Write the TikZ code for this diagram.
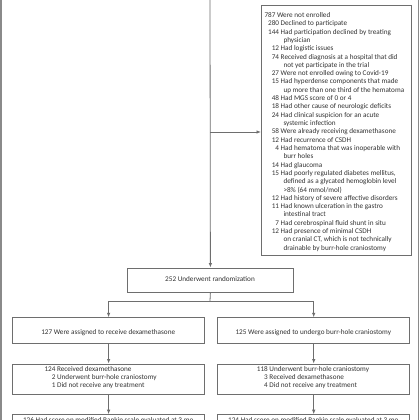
\documentclass[tikz,border=0pt]{standalone}
\usepackage{fontspec}
\setmainfont{Carlito}
\usetikzlibrary{arrows.meta}
\definecolor{linegray}{HTML}{6E6E6E}
\definecolor{framegray}{HTML}{8A8A8A}
\definecolor{textgray}{HTML}{333333}
\newcommand\exitem[2]{\makebox[14.6pt][r]{#1}\ #2}
\newcommand\excont[1]{\hspace{19pt}#1}
\tikzset{
  box/.style={draw=linegray, line width=0.8pt, inner sep=0pt, rectangle, anchor=north west},
  conn/.style={draw=linegray, line width=0.8pt},
  arr/.style={conn, -{Latex[length=4.5pt,width=3.5pt]}},
  txt/.style={text=textgray, font=\fontsize{7.2}{8.31}\selectfont, inner sep=0pt},
  frame/.style={draw=framegray, line width=1.1pt}
}
\begin{document}
\begin{tikzpicture}[x=1pt,y=-1pt]
\clip (0,0) rectangle (420,420);
\fill[white] (0,0) rectangle (420,420);
% outer frame lines
\draw[frame] (1,0) -- (1,420);
\draw[frame] (418.5,0) -- (418.5,420);
% boxes
\node[box, minimum width=149.5pt, minimum height=250pt] (excl) at (261,5) {};
\node[box, minimum width=166pt, minimum height=24pt] (rand) at (127,267.5) {};
\node[box, minimum width=191.8pt, minimum height=26pt] (armL) at (12.3,317.3) {};
\node[box, minimum width=192pt, minimum height=26pt] (armR) at (217.3,317.3) {};
\node[box, minimum width=191.8pt, minimum height=30.5pt] (recL) at (12.3,363.5) {};
\node[box, minimum width=192pt, minimum height=30.5pt] (recR) at (217.3,363.5) {};
\node[box, minimum width=191.8pt, minimum height=30pt] (outL) at (12.3,414.2) {};
\node[box, minimum width=192pt, minimum height=30pt] (outR) at (217.3,414.2) {};
% texts
\node[txt, anchor=base west] (exclT) at (264.3,17.5) {\begin{tabular}[t]{@{}l@{}}
787 Were not enrolled\\
\exitem{280}{Declined to participate}\\
\exitem{144}{Had participation declined by treating}\\
\excont{physician}\\
\exitem{12}{Had logistic issues}\\
\exitem{74}{Received diagnosis at a hospital that did}\\
\excont{not yet participate in the trial}\\
\exitem{27}{Were not enrolled owing to Covid-19}\\
\exitem{15}{Had hyperdense components that made}\\
\excont{up more than one third of the hematoma}\\
\exitem{48}{Had MGS score of 0 or 4}\\
\exitem{18}{Had other cause of neurologic deficits}\\
\exitem{24}{Had clinical suspicion for an acute}\\
\excont{systemic infection}\\
\exitem{58}{Were already receiving dexamethasone}\\
\exitem{12}{Had recurrence of CSDH}\\
\exitem{4}{Had hematoma that was inoperable with}\\
\excont{burr holes}\\
\exitem{14}{Had glaucoma}\\
\exitem{15}{Had poorly regulated diabetes mellitus,}\\
\excont{defined as a glycated hemoglobin level}\\
\excont{>8\% (64 mmol/mol)}\\
\exitem{12}{Had history of severe affective disorders}\\
\exitem{11}{Had known ulceration in the gastro}\\
\excont{intestinal tract}\\
\exitem{7}{Had cerebrospinal fluid shunt in situ}\\
\exitem{12}{Had presence of minimal CSDH}\\
\excont{on cranial CT, which is not technically}\\
\excont{drainable by burr-hole craniostomy}
\end{tabular}};
\node[txt, anchor=base] (randT) at (210,281.2) {252 Underwent randomization};
\node[txt, anchor=base] (armLT) at (108.2,334.3) {127 Were assigned to receive dexamethasone};
\node[txt, anchor=base] (armRT) at (313.3,334.3) {125 Were assigned to undergo burr-hole craniostomy};
\node[txt, anchor=base west] (recLT) at (44.3,371.3) {\begin{tabular}[t]{@{}l@{}}
124 Received dexamethasone\\
\hphantom{12}2 Underwent burr-hole craniostomy\\
\hphantom{12}1 Did not receive any treatment
\end{tabular}};
\node[txt, anchor=base west] (recRT) at (256.7,371.3) {\begin{tabular}[t]{@{}l@{}}
118 Underwent burr-hole craniostomy\\
\hphantom{11}3 Received dexamethasone\\
\hphantom{11}4 Did not receive any treatment
\end{tabular}};
\node[txt, anchor=base] (outLT) at (108.2,422.8) {126 Had score on modified Rankin scale evaluated at 3 mo};
\node[txt, anchor=base] (outRT) at (313.3,422.8) {124 Had score on modified Rankin scale evaluated at 3 mo};
% connectors
\coordinate (top) at (210,0);
\coordinate (brk) at (210,132);
\coordinate (split) at (210,301);
\draw[arr] (top) -- (rand.north);
\draw[arr] (brk) -- (excl.west |- brk);
\draw[conn] (rand.south) -- (split);
\draw[arr] (split) -| (armL.north);
\draw[arr] (split) -| (armR.north);
\draw[arr] (armL.south) -- (recL.north);
\draw[arr] (armR.south) -- (recR.north);
\draw[arr] (recL.south) -- (outL.north);
\draw[arr] (recR.south) -- (outR.north);
\end{tikzpicture}
\end{document}
